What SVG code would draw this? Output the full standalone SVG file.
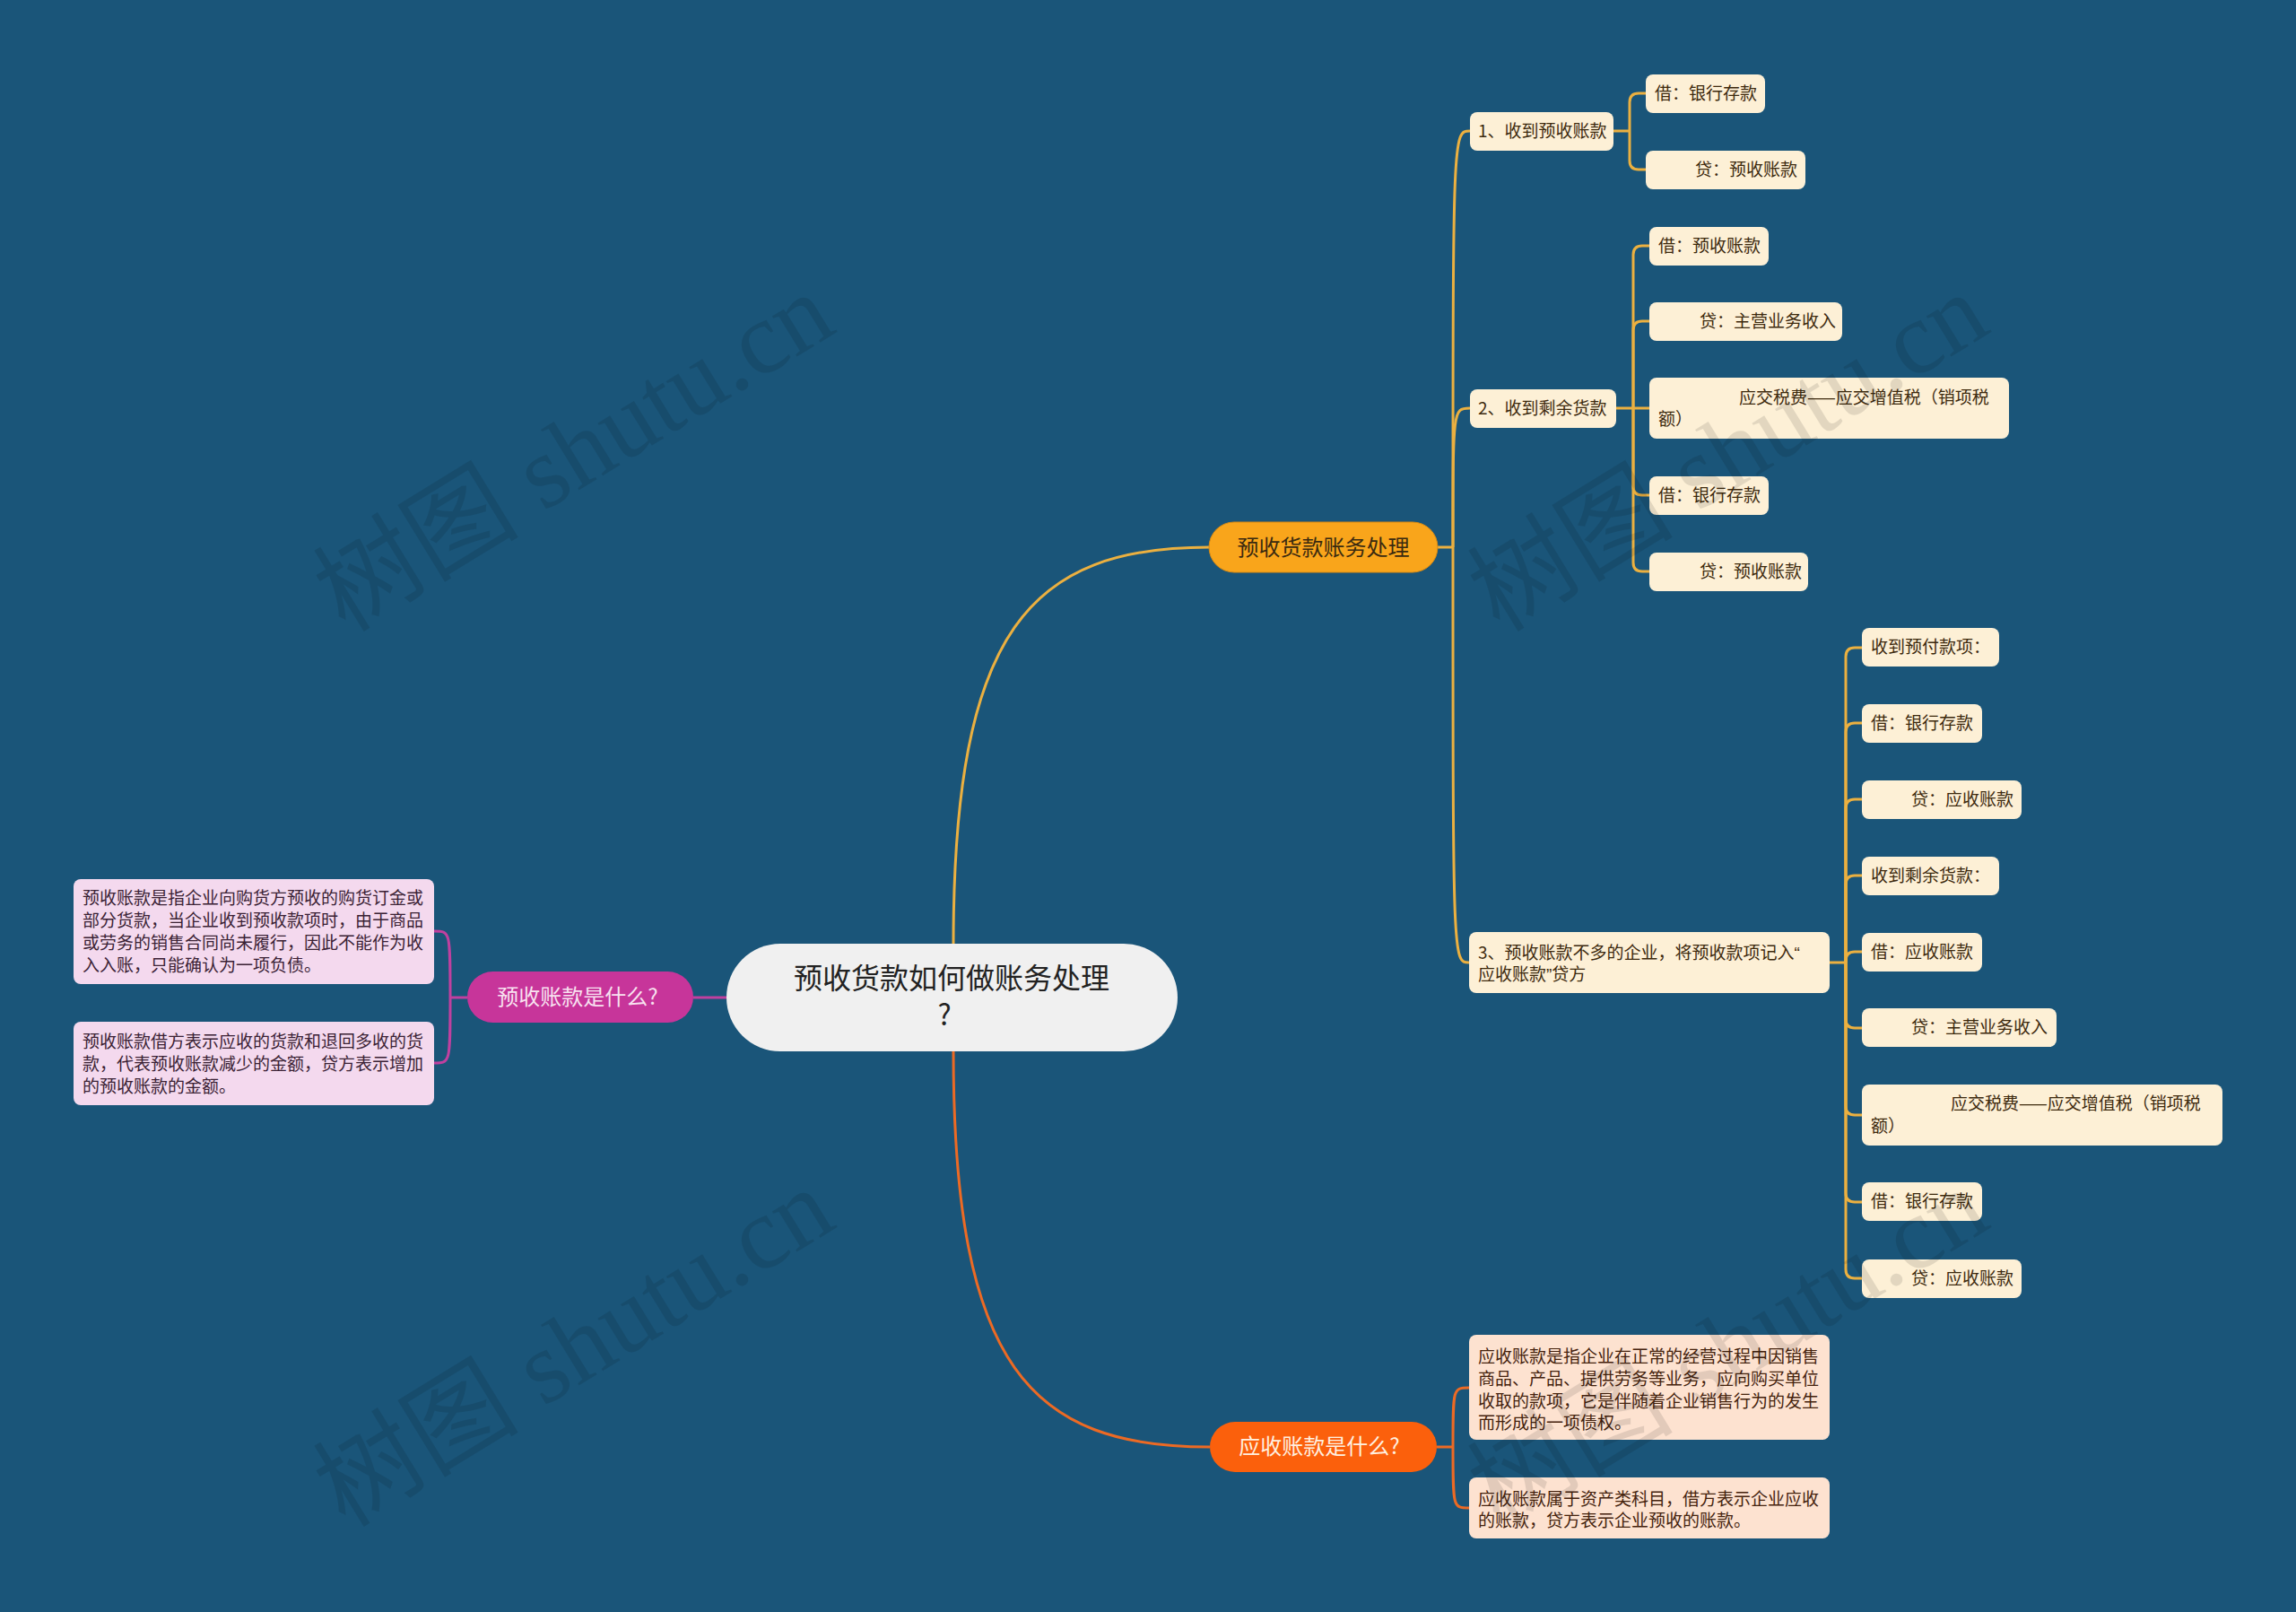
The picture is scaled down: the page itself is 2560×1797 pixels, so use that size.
<svg xmlns="http://www.w3.org/2000/svg" width="2560" height="1797" viewBox="0 0 2560 1797">
<defs>
<style>
text{font-family:"Noto Sans CJK SC","Noto Sans",sans-serif;}
.bg{fill:#1a5579;}
.cream{fill:#fdf0d6;}
.ct{font-size:19px;fill:#3d2a0e;}
.pinkbox{fill:#f4d9ee;}
.pt{font-size:19px;fill:#3b2235;}
.peach{fill:#fde2d0;}
.et{font-size:19px;fill:#45230e;}
.lo{fill:none;stroke:#ebb040;stroke-width:3;}
.lp{fill:none;stroke:#c0409f;stroke-width:3;}
.le{fill:none;stroke:#ec6a24;stroke-width:3;}
.q{font-family:"Liberation Sans",sans-serif;}
.wm{font-family:"Liberation Serif","Noto Sans CJK SC",serif;font-size:115px;fill:#000;opacity:0.1;}
</style>
</defs>
<rect class="bg" x="0" y="0" width="2560" height="1797"/>

<g id="connectors">
<path class="lo" d="M1063,1053 C1063,700 1150,610 1349,610"/>
<path class="le" d="M1063,1172 C1063,1525 1150,1613 1349,1613"/>
<path class="lp" d="M810,1112 L773,1112"/>
<path class="lo" d="M1602,610 H1620"/>
<path class="lo" d="M1620,610 C1620,146 1620,146 1639,146"/>
<path class="lo" d="M1620,610 C1620,455 1620,455 1639,455"/>
<path class="lo" d="M1620,610 C1620,1073 1620,1073 1638,1073"/>
<path class="lo" d="M1799,146 H1817"/>
<path class="lo" d="M1817,146 V114 Q1817,104 1827,104 H1835"/>
<path class="lo" d="M1817,146 V179 Q1817,189 1827,189 H1835"/>
<path class="lo" d="M1802,455 H1839"/>
<path class="lo" d="M1821,455 V284 Q1821,274 1831,274 H1839"/>
<path class="lo" d="M1821,455 V368 Q1821,358 1831,358 H1839"/>
<path class="lo" d="M1821,455 V542 Q1821,552 1831,552 H1839"/>
<path class="lo" d="M1821,455 V627 Q1821,637 1831,637 H1839"/>
<path class="lo" d="M2040,1073 H2058"/>
<path class="lo" d="M2058,1073 V732 Q2058,722 2068,722 H2076"/>
<path class="lo" d="M2058,1073 V816 Q2058,806 2068,806 H2076"/>
<path class="lo" d="M2058,1073 V901 Q2058,891 2068,891 H2076"/>
<path class="lo" d="M2058,1073 V986 Q2058,976 2068,976 H2076"/>
<path class="lo" d="M2058,1073 V1071 Q2058,1061 2068,1061 H2076"/>
<path class="lo" d="M2058,1073 V1136 Q2058,1146 2068,1146 H2076"/>
<path class="lo" d="M2058,1073 V1233 Q2058,1243 2068,1243 H2076"/>
<path class="lo" d="M2058,1073 V1330 Q2058,1340 2068,1340 H2076"/>
<path class="lo" d="M2058,1073 V1415 Q2058,1425 2068,1425 H2076"/>
<path class="le" d="M1602,1613 H1620"/>
<path class="le" d="M1620,1613 C1620,1547 1620,1547 1638,1547"/>
<path class="le" d="M1620,1613 C1620,1681 1620,1681 1638,1681"/>
<path class="lp" d="M521,1112 H502"/>
<path class="lp" d="M502,1112 C502,1038 502,1038 484,1038"/>
<path class="lp" d="M502,1112 C502,1185 502,1185 484,1185"/>
</g>

<g id="center">
<rect x="810" y="1052" width="503" height="120" rx="60" fill="#f0f0f0"/>
<text font-size="32" fill="#222" text-anchor="middle"><tspan x="1061" y="1102">预收货款如何做账务处理</tspan><tspan x="1053" y="1143">?</tspan></text>
</g>

<g id="b-orange">
<rect x="1348" y="582" width="255" height="56" rx="28" fill="#f9a51b" stroke="#d98a12" stroke-width="1"/>
<text x="1475.5" y="619" font-size="24" fill="#3a2a10" text-anchor="middle">预收货款账务处理</text>
</g>

<g id="b-pink">
<rect x="521" y="1083" width="252" height="57" rx="28.5" fill="#c7359a"/>
<text x="644" y="1120" font-size="24" fill="#f8e1f0" text-anchor="middle">预收账款是什么?</text>
</g>

<g id="b-red">
<rect x="1349" y="1585" width="253" height="56" rx="28" fill="#fb600c"/>
<text x="1471" y="1621" font-size="24" fill="#fff0e0" text-anchor="middle">应收账款是什么?</text>
</g>

<g id="pink1">
<rect class="pinkbox" x="82" y="980" width="402" height="117" rx="8"/>
<text class="pt"><tspan x="92" y="1008">预收账款是指企业向购货方预收的购货订金或</tspan><tspan x="92" y="1033">部分货款，当企业收到预收款项时，由于商品</tspan><tspan x="92" y="1058">或劳务的销售合同尚未履行，因此不能作为收</tspan><tspan x="92" y="1083">入入账，只能确认为一项负债。</tspan></text>
</g>
<g id="pink2">
<rect class="pinkbox" x="82" y="1139" width="402" height="93" rx="8"/>
<text class="pt"><tspan x="92" y="1168">预收账款借方表示应收的货款和退回多收的货</tspan><tspan x="92" y="1193">款，代表预收账款减少的金额，贷方表示增加</tspan><tspan x="92" y="1218">的预收账款的金额。</tspan></text>
</g>

<g id="peach1">
<rect class="peach" x="1638" y="1488" width="402" height="117" rx="8"/>
<text class="et"><tspan x="1648" y="1519">应收账款是指企业在正常的经营过程中因销售</tspan><tspan x="1648" y="1544">商品、产品、提供劳务等业务，应向购买单位</tspan><tspan x="1648" y="1569">收取的款项，它是伴随着企业销售行为的发生</tspan><tspan x="1648" y="1593">而形成的一项债权。</tspan></text>
</g>
<g id="peach2">
<rect class="peach" x="1638" y="1647" width="402" height="68" rx="8"/>
<text class="et"><tspan x="1648" y="1678">应收账款属于资产类科目，借方表示企业应收</tspan><tspan x="1648" y="1702">的账款，贷方表示企业预收的账款。</tspan></text>
</g>

<g id="n1">
<rect class="cream" x="1639" y="125" width="160" height="43" rx="8"/>
<text class="ct" x="1648" y="153">1、收到预收账款</text>
</g>
<g id="n1a">
<rect class="cream" x="1835" y="83" width="133" height="43" rx="8"/>
<text class="ct" x="1845" y="111">借：银行存款</text>
</g>
<g id="n1b">
<rect class="cream" x="1835" y="168" width="178" height="43" rx="8"/>
<text class="ct" x="1890" y="196">贷：预收账款</text>
</g>

<g id="n2">
<rect class="cream" x="1639" y="434" width="163" height="43" rx="8"/>
<text class="ct" x="1648" y="462">2、收到剩余货款</text>
</g>
<g id="n2a">
<rect class="cream" x="1839" y="253" width="133" height="43" rx="8"/>
<text class="ct" x="1849" y="281">借：预收账款</text>
</g>
<g id="n2b">
<rect class="cream" x="1839" y="337" width="215" height="43" rx="8"/>
<text class="ct" x="1895" y="365">贷：主营业务收入</text>
</g>
<g id="n2c">
<rect class="cream" x="1839" y="421" width="401" height="68" rx="8"/>
<text class="ct"><tspan x="1939" y="450">应交税费——应交增值税（销项税</tspan><tspan x="1849" y="474">额）</tspan></text>
</g>
<g id="n2d">
<rect class="cream" x="1839" y="531" width="133" height="43" rx="8"/>
<text class="ct" x="1849" y="559">借：银行存款</text>
</g>
<g id="n2e">
<rect class="cream" x="1839" y="616" width="177" height="43" rx="8"/>
<text class="ct" x="1895" y="644">贷：预收账款</text>
</g>

<g id="n3">
<rect class="cream" x="1638" y="1039" width="402" height="68" rx="8"/>
<text class="ct"><tspan x="1648" y="1069">3、预收账款不多的企业，将预收款项记入<tspan class="q">“</tspan></tspan><tspan x="1648" y="1093">应收账款<tspan class="q">”</tspan>贷方</tspan></text>
</g>
<g id="n3a">
<rect class="cream" x="2076" y="700" width="153" height="43" rx="8"/>
<text class="ct" x="2086" y="728">收到预付款项：</text>
</g>
<g id="n3b">
<rect class="cream" x="2076" y="785" width="134" height="43" rx="8"/>
<text class="ct" x="2086" y="813">借：银行存款</text>
</g>
<g id="n3c">
<rect class="cream" x="2076" y="870" width="178" height="43" rx="8"/>
<text class="ct" x="2131" y="898">贷：应收账款</text>
</g>
<g id="n3d">
<rect class="cream" x="2076" y="955" width="153" height="43" rx="8"/>
<text class="ct" x="2086" y="983">收到剩余货款：</text>
</g>
<g id="n3e">
<rect class="cream" x="2076" y="1040" width="134" height="43" rx="8"/>
<text class="ct" x="2086" y="1068">借：应收账款</text>
</g>
<g id="n3f">
<rect class="cream" x="2076" y="1124" width="217" height="43" rx="8"/>
<text class="ct" x="2131" y="1152">贷：主营业务收入</text>
</g>
<g id="n3g">
<rect class="cream" x="2076" y="1209" width="402" height="68" rx="8"/>
<text class="ct"><tspan x="2175" y="1237">应交税费——应交增值税（销项税</tspan><tspan x="2086" y="1262">额）</tspan></text>
</g>
<g id="n3h">
<rect class="cream" x="2076" y="1318" width="134" height="43" rx="8"/>
<text class="ct" x="2086" y="1346">借：银行存款</text>
</g>
<g id="n3i">
<rect class="cream" x="2076" y="1404" width="178" height="43" rx="8"/>
<text class="ct" x="2131" y="1432">贷：应收账款</text>
</g>

<g id="watermark">
<text class="wm" transform="translate(385,706) rotate(-31.5)">树图 shutu.cn</text>
<text class="wm" transform="translate(1672,706) rotate(-31.5)">树图 shutu.cn</text>
<text class="wm" transform="translate(385,1704) rotate(-31.5)">树图 shutu.cn</text>
<text class="wm" transform="translate(1672,1704) rotate(-31.5)">树图 shutu.cn</text>
</g>
</svg>
